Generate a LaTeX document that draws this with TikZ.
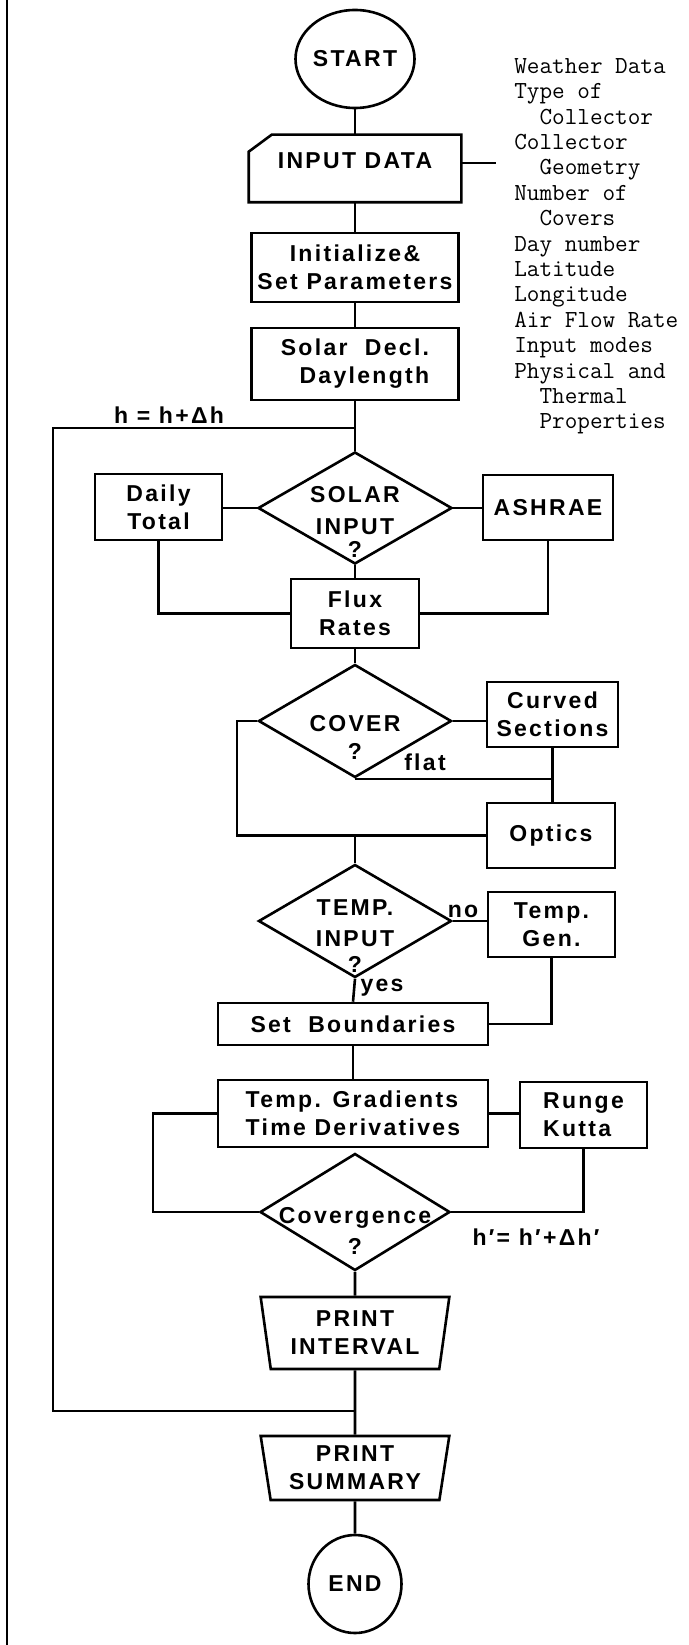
\documentclass[tikz,border=0pt]{standalone}
\usepackage{fontspec}
\usepackage{tikz}
\usetikzlibrary{shapes.geometric}
\newfontfamily\chartfont[LetterSpace=10]{Liberation Sans}
\newcommand\chartlbl{\chartfont\bfseries\fontsize{23}{28}\selectfont}

\begin{document}
\begin{tikzpicture}[x=1pt,y=-1pt,line width=2.6pt,
  box/.style={draw,rectangle,inner sep=0pt,align=center,font=\chartlbl},
  decision/.style={draw,diamond,inner sep=0pt},
  terminal/.style={draw,ellipse,inner sep=0pt,font=\chartlbl},
  printbox/.style={draw,trapezium,shape border rotate=180,
    trapezium left angle=80,trapezium right angle=80,
    trapezium stretches=true,inner sep=0pt,align=center,font=\chartlbl},
  lbl/.style={inner sep=0pt,font=\chartlbl},
  listtext/.style={align=left,inner sep=0pt,
    font=\ttfamily\fontsize{24.5}{25.4}\selectfont}]
  \useasboundingbox (0,0) rectangle (688,1645);

  % main column
  \node[terminal,minimum width=96,minimum height=98] (start) at (355,59) {START};
  \node[box,draw=none,minimum width=210,minimum height=65] (input) at (355,168.5)
    {\raisebox{8pt}[\height][\depth]{INPUT DATA}};
  \draw ([xshift=23pt]input.north west) -- (input.north east) -- (input.south east)
    -- (input.south west) -- ([yshift=-17pt]input.north west) -- cycle;
  \node[box,minimum width=207,minimum height=69] (init) at (355,267.5)
    {Initialize\&\\Set Parameters};
  \node[box,align=right,minimum width=207,minimum height=72] (decl) at (355,364)
    {Solar \ Decl.\\Daylength};
  \node[decision,minimum width=194,minimum height=112] (solar) at (355,508) {};
  \node[lbl,align=center] (solartxt) at (355,522) {SOLAR\\[4pt]INPUT\\[-5pt]?};
  \node[box,minimum width=127,minimum height=66] (daily) at (158.5,507) {Daily\\Total};
  \node[box,minimum width=130,minimum height=65] (ashrae) at (548,507.5) {ASHRAE};
  \node[box,minimum width=128,minimum height=69] (flux) at (355,613.5) {Flux\\Rates};
  \node[decision,minimum width=193,minimum height=113] (cover) at (355,721) {};
  \node[lbl,align=center] (covertxt) at (355,737) {COVER\\?};
  \node[box,minimum width=131,minimum height=65] (curved) at (552.5,714.5)
    {Curved\\Sections};
  \node[box,minimum width=128,minimum height=65] (optics) at (551,835.5) {Optics};
  \node[decision,minimum width=193,minimum height=113] (tempin) at (355,921) {};
  \node[lbl,align=center] (tempintxt) at (355,936) {TEMP.\\[3pt]INPUT\\[-2pt]?};
  \node[box,minimum width=127,minimum height=65] (tempgen) at (551.5,924.5)
    {Temp.\\Gen.};
  \node[box,minimum width=270,minimum height=42] (bounds) at (353,1024)
    {Set \ Boundaries};
  \node[box,align=left,minimum width=270,minimum height=67] (grad) at (353,1113.5)
    {Temp. Gradients\\Time Derivatives};
  \node[box,align=left,minimum width=127,minimum height=66] (runge) at (583.5,1115)
    {Runge\\Kutta};
  \node[decision,minimum width=190,minimum height=117] (conv) at (355,1212) {};
  \node[lbl,align=center] (convtxt) at (355,1231) {Covergence\\[3pt]?};
  \node[printbox,minimum width=189,minimum height=72] (printint) at (355,1333)
    {PRINT\\INTERVAL};
  \node[printbox,minimum width=189,minimum height=64] (printsum) at (355,1468)
    {PRINT\\SUMMARY};
  \node[terminal,minimum width=93,minimum height=98] (finish) at (355,1584) {END};

  % input list
  \node[listtext,anchor=north west] (datalist) at (513,57)
    {Weather Data\\Type of\\\phantom{xx}Collector\\Collector\\\phantom{xx}Geometry\\
     Number of\\\phantom{xx}Covers\\Day number\\Latitude\\Longitude\\Air Flow Rate\\
     Input modes\\Physical and\\\phantom{xx}Thermal\\\phantom{xx}Properties};

  \coordinate (listin) at (496,163);
  \coordinate (looptop) at (53,428);
  \coordinate (loopbot) at (53,1411);
  \coordinate (coverleft) at (237,835.5);
  \coordinate (gradleft) at (153,1212);
  \coordinate (bordertop) at (7,0);
  \coordinate (borderbot) at (7,1645);

  % connectors
  \draw (start.south) -- (input.north);
  \draw (listin -| input.east) -- (listin);
  \draw (input.south) -- (init.north);
  \draw (init.south) -- (decl.north);
  \draw (decl.south) -- (solar.north);
  \draw (loopbot -| printint.south) -- (loopbot) -- (looptop) -- (looptop -| decl.south);
  \draw (solar.west) -- (solar.west -| daily.east);
  \draw (solar.east) -- (solar.east -| ashrae.west);
  \draw (daily.south) |- (flux.west);
  \draw (ashrae.south) |- (flux.east);
  \draw (solar.south) -- (flux.north);
  \draw (flux.south) -- (cover.north);
  \draw (cover.east) -- (cover.east -| curved.west);
  \draw (curved.south) -- (curved.south |- optics.north);
  \draw (cover.south) -- (cover.south -| curved.south);
  \draw (cover.west) -| (coverleft) -- (optics.west);
  \draw (coverleft -| tempin.north) -- (tempin.north);
  \draw (tempin.east) -- (tempin.east -| tempgen.west);
  \draw (tempgen.south) |- (bounds.east);
  \draw (tempin.south) -- (bounds.north);
  \draw (bounds.south) -- (grad.north);
  \draw (grad.east) -- (grad.east -| runge.west);
  \draw (grad.west) -| (gradleft) -- (conv.west);
  \draw (runge.south) |- (conv.east);
  \draw (conv.south) -- (printint.north);
  \draw (printint.south) -- (printsum.north);
  \draw (printsum.south) -- (finish.north);
  \draw (bordertop) -- (borderbot);

  % labels
  \node[lbl] (hstep) at (169,415) {h = h+Δh};
  \node[lbl] (flatlbl) at (425,762) {flat};
  \node[lbl] (nolbl) at (463,911) {no};
  \node[lbl] (yeslbl) at (382,988) {yes};
  \node[lbl] (hprime) at (536,1237) {h′= h′+Δh′};
\end{tikzpicture}
\end{document}
